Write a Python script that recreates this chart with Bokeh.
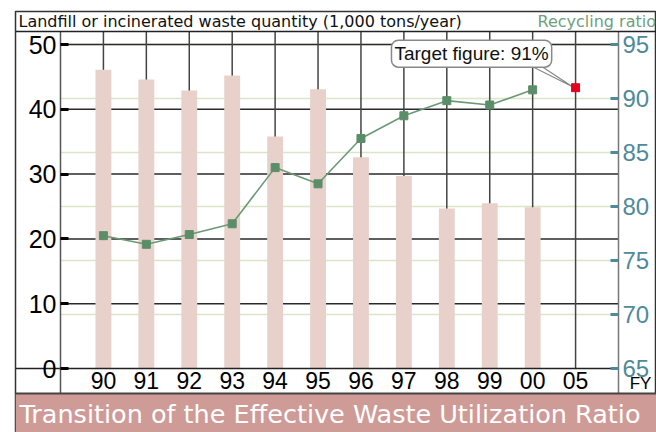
from bokeh.plotting import figure
from bokeh.models import Range1d, LinearAxis, FixedTicker, Span, Label, BoxAnnotation
from bokeh.embed import file_html
from bokeh.resources import INLINE

# ---------------- data ----------------
years = ["90", "91", "92", "93", "94", "95", "96", "97", "98", "99", "00", "05"]
waste = [46.1, 44.6, 42.9, 45.2, 35.8, 43.1, 32.6, 29.7, 24.7, 25.5, 24.9]
ratio = [77.3, 76.5, 77.4, 78.4, 83.6, 82.1, 86.3, 88.4, 89.8, 89.4, 90.8]
target_year = "05"
target_ratio = 91
waste_ticks = [0, 10, 20, 30, 40, 50]
ratio_ticks = [65, 70, 75, 80, 85, 90, 95]
header_left = "Landfill or incinerated waste quantity (1,000 tons/year)"
header_right = "Recycling ratio"
title_text = "Transition of the Effective Waste Utilization Ratio"
callout_text = "Target figure: 91%"

# ---------------- layout (page pixels) ----------------
ORIGIN = 0
W, H = 656, 432
FRAME_L, FRAME_T, FRAME_R, FRAME_B = 15, 11, 656, 432
PLOT_L, PLOT_R, PLOT_T, AXIS_Y, BAND_T = 60, 618, 31, 368, 393
N_SLOTS = len(years) + 1
PXX = (PLOT_R - PLOT_L) / N_SLOTS
PXY = 6.48                      # px per waste unit
R0 = ratio_ticks[0]
PXR = PXY * (waste_ticks[-1] - waste_ticks[0]) / (ratio_ticks[-1] - ratio_ticks[0])


def xd(px):
    return (px - PLOT_L) / PXX


def yd(py):
    return (AXIS_Y - py) / PXY


def rd(py):
    return R0 + (AXIS_Y - py) / PXR


TICKFONT = "Liberation Sans"
BAR = "#e8d1cb"
GREEN_LINE = "#6a9a75"
GREEN_MARK = "#5b8e68"
RED = "#e6001e"
TEAL = "#4f8a9b"
BAND = "#cf9b97"

p = figure(width=W, height=H, output_backend="svg", toolbar_location=None,
           x_range=Range1d(xd(FRAME_L), xd(FRAME_R)),
           y_range=Range1d(yd(FRAME_B), yd(FRAME_T)),
           x_axis_location=None, y_axis_location=None,
           min_border_left=FRAME_L - ORIGIN, min_border_right=W + ORIGIN - FRAME_R,
           min_border_top=FRAME_T - ORIGIN, min_border_bottom=H + ORIGIN - FRAME_B,
           background_fill_color="white", border_fill_color="white")
p.extra_y_ranges = {"ratio": Range1d(rd(FRAME_B), rd(FRAME_T))}
p.outline_line_color = "#333333"
p.outline_line_width = 1.5
p.xgrid.visible = False
p.ygrid.visible = False

idx = [i + 1 for i in range(len(years))]
top_y = yd(PLOT_T)

# gridlines
gr = ratio_ticks[1:]
p.segment(x0=[0] * len(gr), x1=[N_SLOTS] * len(gr), y0=gr, y1=gr,
          y_range_name="ratio", line_color="#dbe6c9", line_width=1.5)
gw = waste_ticks[1:]
p.segment(x0=[0] * len(gw), x1=[N_SLOTS] * len(gw), y0=gw, y1=gw,
          line_color="#2a2a2a", line_width=1.5)
p.segment(x0=idx, x1=idx, y0=[0] * len(idx), y1=[top_y] * len(idx),
          line_color="#444444", line_width=1.5)

# bars
p.vbar(x=idx[:len(waste)], top=waste, bottom=0, width=0.37,
       fill_color=BAR, line_color=None)

# ratio line
p.line(x=idx[:len(ratio)], y=ratio, y_range_name="ratio",
       line_color=GREEN_LINE, line_width=1.6)
p.scatter(x=idx[:len(ratio)], y=ratio, y_range_name="ratio", marker="square",
          size=8, fill_color=GREEN_MARK, line_color=GREEN_MARK)

tx = idx[years.index(target_year)]

# callout pointer
p.patch(x=[tx - 45 / PXX, tx - 35 / PXX, tx - 3 / PXX],
        y=[target_ratio + 22 / PXR, target_ratio + 22 / PXR, target_ratio + 1 / PXR],
        y_range_name="ratio", fill_color="white", line_color="#888888", line_width=1.2)

p.scatter(x=[tx], y=[target_ratio], y_range_name="ratio", marker="square",
          size=8, fill_color=RED, line_color=RED)

# axes
left = LinearAxis(fixed_location=0, bounds=(yd(BAND_T), top_y),
                  ticker=FixedTicker(ticks=waste_ticks))
left.axis_line_color = "#555555"
left.axis_line_width = 1.5
left.major_tick_in = 8
left.major_tick_out = 0
left.major_tick_line_color = "black"
left.major_tick_line_width = 3
left.minor_tick_line_color = None
left.major_label_text_font = TICKFONT
left.major_label_text_font_size = "25px"
left.major_label_text_color = "black"
left.major_label_standoff = 4
p.add_layout(left, "left")

right = LinearAxis(y_range_name="ratio", fixed_location=N_SLOTS,
                   bounds=(rd(BAND_T), rd(PLOT_T)),
                   ticker=FixedTicker(ticks=ratio_ticks))
right.axis_line_color = "#777777"
right.axis_line_width = 1.5
right.major_tick_in = 8
right.major_tick_out = 0
right.major_tick_line_color = TEAL
right.major_tick_line_width = 3
right.minor_tick_line_color = None
right.major_label_text_font = TICKFONT
right.major_label_text_font_size = "24px"
right.major_label_text_color = TEAL
right.major_label_standoff = 4
p.add_layout(right, "right")

bottom = LinearAxis(fixed_location=0, bounds=(xd(FRAME_L), N_SLOTS),
                    ticker=FixedTicker(ticks=idx),
                    major_label_overrides={i: y for i, y in zip(idx, years)})
bottom.axis_line_color = "#222222"
bottom.axis_line_width = 1.5
bottom.major_tick_in = 0
bottom.major_tick_out = 0
bottom.minor_tick_line_color = None
bottom.major_label_text_font = TICKFONT
bottom.major_label_text_font_size = "23px"
bottom.major_label_text_color = "black"
bottom.major_label_standoff = 3
p.add_layout(bottom, "below")

# header
p.add_layout(Span(location=top_y, dimension="width", line_color="#222222", line_width=1.5))
p.add_layout(Label(x=xd(18), y=yd(21), text=header_left, text_baseline="middle",
                   text_font="DejaVu Sans", text_font_size="16px", text_color="#111111"))
p.add_layout(Label(x=xd(537), y=yd(21), text=header_right, text_baseline="middle",
                   text_font="DejaVu Sans", text_font_size="16px", text_color="#6f9f7c"))

# FY
p.add_layout(Label(x=N_SLOTS, y=0, x_offset=22, y_offset=-15, text="FY",
                   text_align="center", text_baseline="middle",
                   text_font=TICKFONT, text_font_size="17px", text_color="black"))

# callout
p.add_layout(Label(x=tx, y=target_ratio, y_range_name="ratio", x_offset=-104, y_offset=34,
                   text=callout_text, text_align="center", text_baseline="middle",
                   text_font=TICKFONT, text_font_size="19px", text_color="#111111",
                   background_fill_color="white", border_line_color="#888888",
                   border_line_width=1.5, padding=3, border_radius=7))

# title band
p.add_layout(BoxAnnotation(left=xd(FRAME_L), right=xd(FRAME_R), bottom=yd(FRAME_B),
                           top=yd(BAND_T), fill_color=BAND, fill_alpha=1, line_color=None))
p.add_layout(Span(location=yd(BAND_T), dimension="width", line_color="#444444", line_width=2))
p.add_layout(Label(x=xd(19), y=yd(413), text=title_text, text_baseline="middle",
                   text_font="DejaVu Sans", text_font_size="25.5px", text_color="white"))

open("out.html", "w").write(file_html(p, INLINE))
